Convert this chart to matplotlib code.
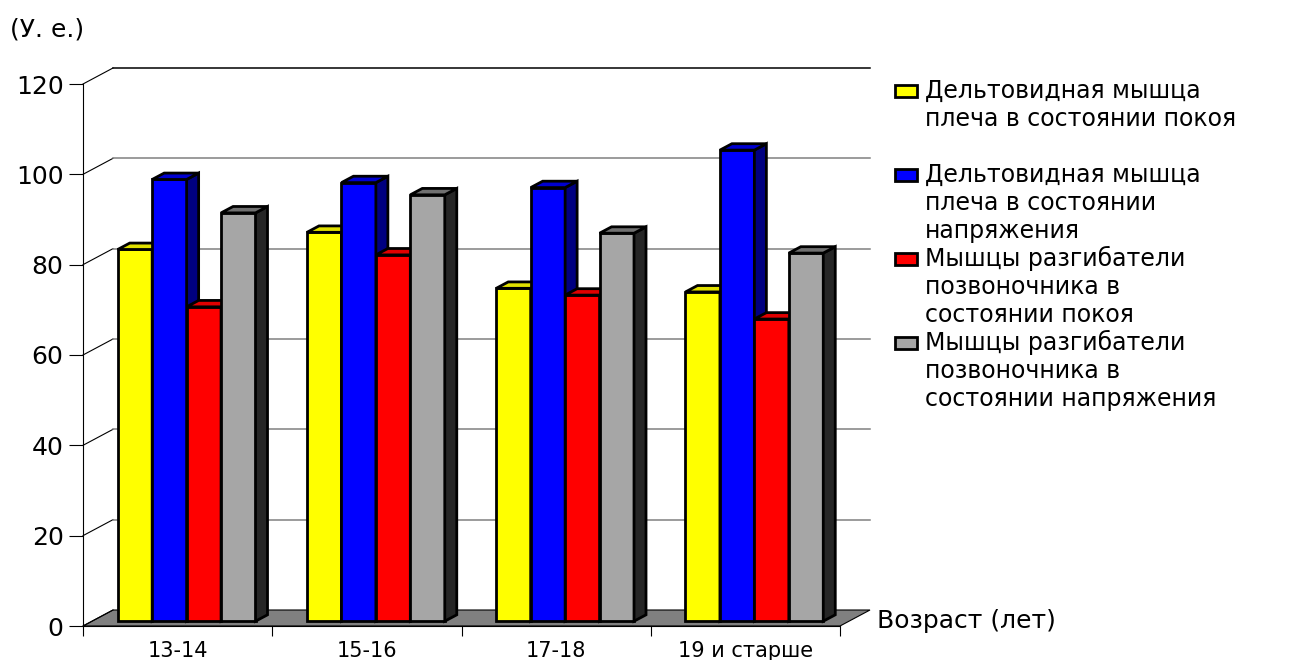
import matplotlib
matplotlib.use("Agg")
import matplotlib.pyplot as plt
from matplotlib.patches import Polygon, Rectangle
import numpy as np

# age groups and muscle readings (conventional units)
ages = ['13-14', '15-16', '17-18', '19 и старше']
delt_rest = [82.3, 86.1, 73.7, 72.9]
delt_tense = [97.8, 97.1, 96.0, 104.3]
spine_rest = [69.6, 81.1, 72.2, 66.9]
spine_tense = [90.4, 94.4, 85.9, 81.5]
series_names = [
    'Дельтовидная мышца\nплеча в состоянии покоя',
    'Дельтовидная мышца\nплеча в состоянии\nнапряжения',
    'Мышцы разгибатели\nпозвоночника в\nсостоянии покоя',
    'Мышцы разгибатели\nпозвоночника в\nсостоянии напряжения',
]
yticks = [0, 20, 40, 60, 80, 100, 120]

# front / top / side shades for the fake 3d boxes
front_cols = ['#FFFF00', '#0000FF', '#FF0000', '#A6A6A6']
top_cols = ['#E0E000', '#0000D0', '#E00000', '#707070']
side_cols = ['#808000', '#000080', '#800000', '#262626']

W, H = 1310, 660
fig = plt.figure(figsize=(W / 100, H / 100), dpi=100)

# axes box in pixels: front floor edge and front wall edge
L, B, R, T = 83, 626, 840, 84
ax = fig.add_axes([L / W, 1 - B / H, (R - L) / W, (B - T) / H])
ncat = len(ages)
ax.set_xlim(0, ncat)
ax.set_ylim(0, yticks[-1])

# depth of the box (30 px right, 16 px up) in data units
px_x = ncat / (R - L)
px_y = yticks[-1] / (B - T)
DX, DY = 30 * px_x, 16 * px_y

# floor
ax.add_patch(Polygon([(0, 0), (ncat, 0), (ncat + DX, DY), (DX, DY)],
                     closed=True, fc='#808080', ec='black', lw=0.8,
                     clip_on=False, zorder=1))
# left wall diagonals + back wall gridlines
for v in yticks:
    ax.plot([0, DX], [v, v + DY], color='black', lw=0.8, clip_on=False, zorder=1)
    if v == 0:
        continue
    col = 'black' if v == yticks[-1] else '#808080'
    ax.plot([DX, ncat + DX], [v + DY, v + DY], color=col, lw=1.1,
            clip_on=False, zorder=1)

# bars sit between 30% and 70% of the depth
bw = 0.182
f0, fd = 0.3, 0.4
bdx, bdy = fd * DX, fd * DY
edge_lw = 2.0
all_vals = [delt_rest, delt_tense, spine_rest, spine_tense]
for j, vals in enumerate(all_vals):
    lefts = np.arange(ncat) + 0.5 - 2 * bw + j * bw + f0 * DX
    base = f0 * DY
    ax.bar(lefts, vals, bw, bottom=base, align='edge', color=front_cols[j],
           edgecolor='black', lw=edge_lw, zorder=3)
    for x0, v in zip(lefts, vals):
        x1, y1 = x0 + bw, base + v
        ax.add_patch(Polygon([(x1, base), (x1 + bdx, base + bdy),
                              (x1 + bdx, y1 + bdy), (x1, y1)],
                             fc=side_cols[j], ec='black', lw=edge_lw,
                             joinstyle='miter', zorder=3, clip_on=False))
        ax.add_patch(Polygon([(x0, y1), (x1, y1), (x1 + bdx, y1 + bdy),
                              (x0 + bdx, y1 + bdy)],
                             fc=top_cols[j], ec='black', lw=edge_lw,
                             joinstyle='miter', zorder=3, clip_on=False))

for s in ['top', 'right']:
    ax.spines[s].set_visible(False)
for s in ['left', 'bottom']:
    ax.spines[s].set_color('black')
    ax.spines[s].set_linewidth(0.8)
ax.patch.set_visible(False)

ax.set_yticks(yticks)
ax.tick_params(axis='y', direction='out', length=10, width=0.8, pad=4,
               labelsize=18)
ax.set_xticks(np.arange(ncat + 1))
ax.set_xticklabels([])
ax.set_xticks(np.arange(ncat) + 0.5, minor=True)
ax.set_xticklabels(ages, minor=True)
ax.tick_params(axis='x', which='major', direction='out', length=7, width=0.8)
ax.tick_params(axis='x', which='minor', length=0, pad=11, labelsize=15)

fig.text(877 / W, 1 - 621 / H, 'Возраст (лет)', fontsize=18,
         ha='left', va='center')
fig.text(10 / W, 1 - 29 / H, '(У. е.)', fontsize=18, ha='left', va='center')

# legend: three text rows per entry, 28 px row pitch
for j, name in enumerate(series_names):
    base_y = 98 + 28 * 3 * j
    fig.add_artist(Rectangle((895 / W, 1 - (base_y - 1) / H), 22 / W, 12 / H,
                             transform=fig.transFigure, fc=front_cols[j],
                             ec='black', lw=2.0))
    for k, line in enumerate(name.split('\n')):
        fig.text(925 / W, 1 - (base_y + 28 * k) / H, line, fontsize=17,
                 ha='left', va='baseline')

fig.savefig('out.png', dpi=100)
